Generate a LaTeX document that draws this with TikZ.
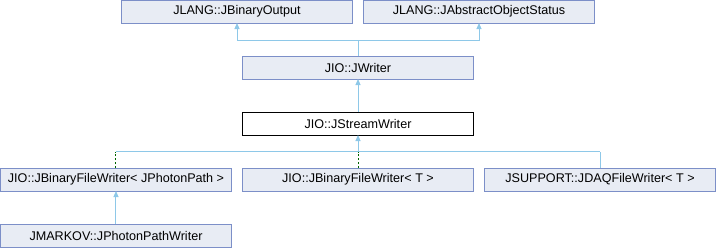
\documentclass[tikz,border=0pt]{standalone}
\usepackage{fontspec}
\setmainfont{Liberation Sans}
\usepackage{tikz}
\usetikzlibrary{arrows.meta, positioning}
\definecolor{boxfill}{RGB}{232,236,244}
\definecolor{boxline}{RGB}{124,143,200}
\definecolor{wireblue}{RGB}{142,200,232}
\definecolor{tmplgreen}{RGB}{0,100,0}
\tikzset{
  classbox/.style={
    draw=boxline, rectangle, fill=boxfill,
    minimum width=231bp, minimum height=23bp,
    inner sep=0pt, outer sep=0pt, line width=1bp,
    font=\fontsize{12.6bp}{15bp}\selectfont
  },
  mainbox/.style={classbox, draw=black, fill=white},
  inherit/.style={-{Triangle[length=6bp, width=5bp]}, draw=wireblue, line width=1bp},
  plainwire/.style={draw=wireblue, line width=1bp},
  tmplwire/.style={draw=tmplgreen, dashed, dash pattern=on 2bp off 2bp, line width=1bp}
}

\begin{document}
\begin{tikzpicture}[x=1bp, y=1bp, node distance=33bp and 11bp]
  \useasboundingbox (0,0) rectangle (716,-248);

  % Stream writer in the middle
  \node[mainbox] (stream) at (358,-123.5) {JIO::JStreamWriter};
  \node[classbox, above=of stream] (writer) {JIO::JWriter};

  % Base classes
  \node[classbox, above=of writer, xshift=-121bp] (binout) {JLANG::JBinaryOutput};
  \node[classbox, right=of binout] (objstat) {JLANG::JAbstractObjectStatus};

  % Derived classes
  \node[classbox, below=of stream] (bfwt) {JIO::JBinaryFileWriter< T >};
  \node[classbox, left=of bfwt]  (bfwpath) {JIO::JBinaryFileWriter< JPhotonPath >};
  \node[classbox, right=of bfwt] (daqfw) {JSUPPORT::JDAQFileWriter< T >};
  \node[classbox, below=of bfwpath] (pathwr) {JMARKOV::JPhotonPathWriter};

  % Wires up
  \draw[inherit] (writer.north) -- ++(0,15.3) -| (binout.south);
  \draw[inherit] (writer.north) -- ++(0,15.3) -| (objstat.south);
  \draw[inherit] (stream.north) -- (writer.south);

  % Wires down
  \path (stream.south) ++(0,-16.5) coordinate (join);
  \draw[inherit] (join) -- (stream.south);
  \draw[plainwire] (bfwpath.north |- join) -- (daqfw.north |- join);
  \draw[tmplwire] (bfwpath.north) -- (bfwpath.north |- join);
  \draw[tmplwire] (bfwt.north) -- (join);
  \draw[plainwire] (daqfw.north) -- (daqfw.north |- join);
  \draw[inherit] (pathwr.north) -- (bfwpath.south);
\end{tikzpicture}
\end{document}
